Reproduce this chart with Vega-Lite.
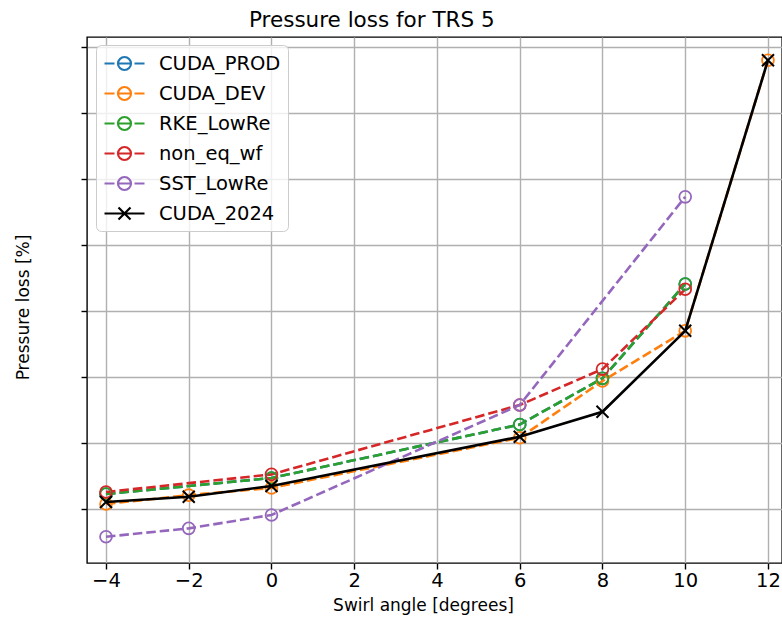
{
  "$schema": "https://vega.github.io/schema/vega-lite/v6.json",
  "width": 695,
  "height": 526,
  "autosize": {"type": "none"},
  "padding": {"left": 87, "top": 37, "right": 0, "bottom": 64},
  "background": "white",
  "config": {"view": {"stroke": "black", "strokeWidth": 1.4}, "font": "DejaVu Sans"},
  "title": {"text": "Pressure loss for TRS 5", "anchor": "start", "frame": "group", "dx": 162, "dy": 22, "fontSize": 21.5, "fontWeight": "normal", "font": "DejaVu Sans", "offset": 11, "baseline": "alphabetic", "color": "black"},
  "data": {"values": [
    {"case": "CUDA_PROD", "angle": -4, "loss": 0.227},
    {"case": "CUDA_PROD", "angle": 0, "loss": 0.47},
    {"case": "CUDA_PROD", "angle": 6, "loss": 1.28},
    {"case": "CUDA_PROD", "angle": 8, "loss": 1.98},
    {"case": "CUDA_PROD", "angle": 10, "loss": 3.41},
    {"case": "CUDA_DEV", "angle": -4, "loss": 0.076},
    {"case": "CUDA_DEV", "angle": -2, "loss": 0.21},
    {"case": "CUDA_DEV", "angle": 0, "loss": 0.32},
    {"case": "CUDA_DEV", "angle": 6, "loss": 1.08},
    {"case": "CUDA_DEV", "angle": 8, "loss": 1.94},
    {"case": "CUDA_DEV", "angle": 10, "loss": 2.70},
    {"case": "CUDA_DEV", "angle": 12, "loss": 6.80},
    {"case": "RKE_LowRe", "angle": -4, "loss": 0.227},
    {"case": "RKE_LowRe", "angle": 0, "loss": 0.47},
    {"case": "RKE_LowRe", "angle": 6, "loss": 1.28},
    {"case": "RKE_LowRe", "angle": 8, "loss": 1.98},
    {"case": "RKE_LowRe", "angle": 10, "loss": 3.41},
    {"case": "non_eq_wf", "angle": -4, "loss": 0.258},
    {"case": "non_eq_wf", "angle": 0, "loss": 0.525},
    {"case": "non_eq_wf", "angle": 6, "loss": 1.576},
    {"case": "non_eq_wf", "angle": 8, "loss": 2.12},
    {"case": "non_eq_wf", "angle": 10, "loss": 3.33},
    {"case": "SST_LowRe", "angle": -4, "loss": -0.42},
    {"case": "SST_LowRe", "angle": -2, "loss": -0.293},
    {"case": "SST_LowRe", "angle": 0, "loss": -0.09},
    {"case": "SST_LowRe", "angle": 6, "loss": 1.576},
    {"case": "SST_LowRe", "angle": 10, "loss": 4.73},
    {"case": "CUDA_2024", "angle": -4, "loss": 0.106},
    {"case": "CUDA_2024", "angle": -2, "loss": 0.186},
    {"case": "CUDA_2024", "angle": 0, "loss": 0.348},
    {"case": "CUDA_2024", "angle": 6, "loss": 1.095},
    {"case": "CUDA_2024", "angle": 8, "loss": 1.474},
    {"case": "CUDA_2024", "angle": 10, "loss": 2.70},
    {"case": "CUDA_2024", "angle": 12, "loss": 6.80}
  ]},
  "encoding": {
    "x": {"field": "angle", "type": "quantitative",
      "scale": {"domain": [-4.459, 12.339], "nice": false, "zero": false},
      "axis": {"values": [-4, -2, 0, 2, 4, 6, 8, 10, 12], "format": "d", "title": "Swirl angle [degrees]",
        "grid": true, "gridColor": "#b0b0b0", "gridWidth": 1.4, "domain": false,
        "tickColor": "black", "tickWidth": 1.4, "tickSize": 6,
        "labelFontSize": 19.5, "labelFont": "DejaVu Sans", "labelColor": "black", "labelPadding": 2, "labelFlush": false, "labelOverlap": false,
        "titleFontSize": 17, "titleFont": "DejaVu Sans", "titleFontWeight": "normal", "titleColor": "black", "titlePadding": 8, "titleX": 336}},
    "y": {"field": "loss", "type": "quantitative",
      "scale": {"domain": [-0.818, 7.152], "nice": false, "zero": false},
      "axis": {"values": [0, 1, 2, 3, 4, 5, 6, 7], "labels": false, "title": "Pressure loss [%]",
        "grid": true, "gridColor": "#b0b0b0", "gridWidth": 1.4, "domain": false,
        "tickColor": "black", "tickWidth": 1.4, "tickSize": 6,
        "titleFontSize": 17, "titleFont": "DejaVu Sans", "titleFontWeight": "normal", "titleColor": "black", "titlePadding": 48, "titleY": 270}},
    "color": {"field": "case", "type": "nominal",
      "scale": {"domain": ["CUDA_PROD", "CUDA_DEV", "RKE_LowRe", "non_eq_wf", "SST_LowRe", "CUDA_2024"],
        "range": ["#1f77b4", "#ff7f0e", "#2ca02c", "#d62728", "#9467bd", "#000000"]},
      "legend": {"orient": "none", "legendX": 9, "legendY": 8, "title": null,
        "labelFontSize": 19.5, "labelFont": "DejaVu Sans", "labelColor": "black",
        "padding": 7, "rowPadding": 7, "symbolSize": 400, "symbolOffset": 10, "labelOffset": 23,
        "fillColor": "rgba(255,255,255,0.8)", "strokeColor": "#cccccc", "cornerRadius": 5, "symbolStrokeWidth": 2.2,
        "encode": {"symbols": {"update": {
          "shape": {"signal": "datum.value === 'CUDA_2024' ? 'M-2,0L2,0M-0.6,-0.6L0.6,0.6M-0.6,0.6L0.6,-0.6' : 'M-2,0L-1,0M-0.6,0L0.6,0M1,0L2,0M-0.65,0A0.65,0.65 0 1,1 0.65,0A0.65,0.65 0 1,1 -0.65,0'"},
          "fill": {"value": "transparent"},
          "strokeDash": {"value": []},
          "opacity": {"value": 1}
        }}}}}
  },
  "layer": [
    {"transform": [{"filter": "datum.case !== 'CUDA_2024'"}],
     "mark": {"type": "line", "strokeDash": [9.5, 4], "strokeWidth": 2.6}},
    {"transform": [{"filter": "datum.case !== 'CUDA_2024'"}],
     "mark": {"type": "point", "shape": "circle", "filled": false, "size": 140, "strokeWidth": 1.8, "opacity": 1}},
    {"transform": [{"filter": "datum.case === 'CUDA_2024'"}],
     "mark": {"type": "line", "strokeWidth": 2.6}},
    {"transform": [{"filter": "datum.case === 'CUDA_2024'"}],
     "mark": {"type": "point", "shape": "M-1,-1L1,1M-1,1L1,-1", "filled": false, "size": 144, "strokeWidth": 2, "opacity": 1}}
  ]
}
